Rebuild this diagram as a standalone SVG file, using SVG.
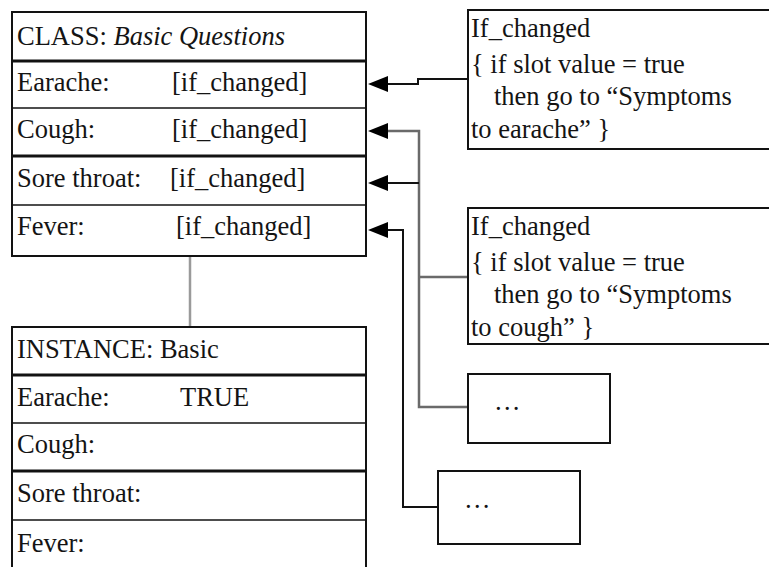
<svg xmlns="http://www.w3.org/2000/svg" width="769" height="567" viewBox="0 0 769 567">
<defs>
<style>
  .box { fill: #ffffff; stroke: #121212; stroke-width: 2; }
  .thin { stroke: #121212; stroke-width: 1.5; }
  .thick { stroke: #121212; stroke-width: 3; }
  .blk { fill: none; stroke: #121212; stroke-width: 2; }
  .gry { fill: none; stroke: #6a6a6a; stroke-width: 2.5; }
  .lgry { fill: none; stroke: #9a9a9a; stroke-width: 2.5; }
  .head { fill: #000000; }
  .t { font-family: 'Liberation Serif', 'Times New Roman', Times, serif; font-size: 26.5px; fill: #141414; }
  .i { font-style: italic; }
</style>
</defs>
<rect x="0" y="0" width="769" height="567" fill="#ffffff"/>

<g id="connectors">
  <polyline class="lgry" points="190,257 190,327"/>
  <polyline class="blk" points="468,79 418,79 418,84 385,84"/>
  <polyline class="gry" points="385,131 419,131 419,407 468,407"/>
  <polyline class="gry" points="419,277 468,277"/>
  <polyline class="blk" points="385,183 419,183"/>
  <polyline class="blk" points="385,230 403,230 403,507 438,507"/>
  <polygon class="head" points="368,84 388,76 388,92"/>
  <polygon class="head" points="368,131 388,123 388,139"/>
  <polygon class="head" points="368,183 388,175 388,191"/>
  <polygon class="head" points="368,230 388,222 388,238"/>
</g>

<g id="class-box">
  <rect class="box" x="12" y="12" width="354" height="244"/>
  <line class="thick" x1="12" y1="61" x2="366" y2="61"/>
  <line class="thin" x1="12" y1="108" x2="366" y2="108"/>
  <line class="thick" x1="12" y1="156" x2="366" y2="156"/>
  <line class="thin" x1="12" y1="205" x2="366" y2="205"/>
  <text class="t" x="17" y="45" font-family="Liberation Serif">CLASS: <tspan class="i">Basic Questions</tspan></text>
  <text class="t" x="17" y="91" font-family="Liberation Serif">Earache:</text>
  <text class="t" x="172" y="91" font-family="Liberation Serif">[if_changed]</text>
  <text class="t" x="17" y="138" font-family="Liberation Serif">Cough:</text>
  <text class="t" x="172" y="138" font-family="Liberation Serif">[if_changed]</text>
  <text class="t" x="17" y="187" font-family="Liberation Serif">Sore throat:</text>
  <text class="t" x="170" y="187" font-family="Liberation Serif">[if_changed]</text>
  <text class="t" x="17" y="235" font-family="Liberation Serif">Fever:</text>
  <text class="t" x="176" y="235" font-family="Liberation Serif">[if_changed]</text>
</g>

<g id="instance-box">
  <rect class="box" x="12" y="327" width="354" height="260"/>
  <line class="thick" x1="12" y1="375" x2="366" y2="375"/>
  <line class="thin" x1="12" y1="423" x2="366" y2="423"/>
  <line class="thick" x1="12" y1="471" x2="366" y2="471"/>
  <line class="thin" x1="12" y1="520" x2="366" y2="520"/>
  <text class="t" x="17" y="358" font-family="Liberation Serif">INSTANCE: Basic</text>
  <text class="t" x="17" y="406" font-family="Liberation Serif">Earache:</text>
  <text class="t" x="180" y="406" font-family="Liberation Serif">TRUE</text>
  <text class="t" x="17" y="453" font-family="Liberation Serif">Cough:</text>
  <text class="t" x="17" y="502" font-family="Liberation Serif">Sore throat:</text>
  <text class="t" x="17" y="552" font-family="Liberation Serif">Fever:</text>
</g>

<g id="if-changed-earache">
  <rect class="box" x="468" y="10" width="310" height="139"/>
  <text class="t" x="471" y="37" font-family="Liberation Serif">If_changed</text>
  <text class="t" x="471" y="73" font-family="Liberation Serif">{ if slot value = true</text>
  <text class="t" x="494" y="105" font-family="Liberation Serif">then go to &#8220;Symptoms</text>
  <text class="t" x="471" y="138" font-family="Liberation Serif">to earache&#8221; }</text>
</g>

<g id="if-changed-cough">
  <rect class="box" x="468" y="208" width="310" height="136"/>
  <text class="t" x="471" y="235" font-family="Liberation Serif">If_changed</text>
  <text class="t" x="471" y="271" font-family="Liberation Serif">{ if slot value = true</text>
  <text class="t" x="494" y="303" font-family="Liberation Serif">then go to &#8220;Symptoms</text>
  <text class="t" x="471" y="336" font-family="Liberation Serif">to cough&#8221; }</text>
</g>

<g id="box-more-1">
  <rect class="box" x="468" y="374" width="142" height="69"/>
  <text class="t" x="494" y="410" font-family="Liberation Serif">&#8230;</text>
</g>

<g id="box-more-2">
  <rect class="box" x="438" y="471" width="142" height="73"/>
  <text class="t" x="464" y="508" font-family="Liberation Serif">&#8230;</text>
</g>
</svg>
